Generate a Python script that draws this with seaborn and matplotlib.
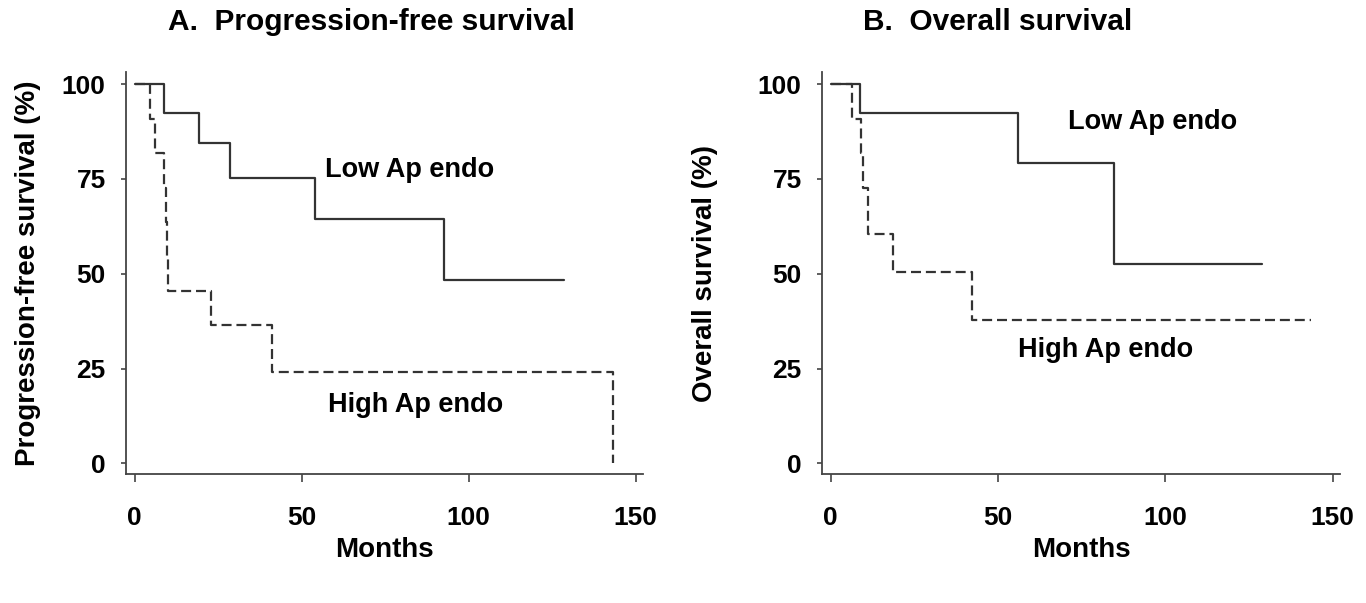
import pandas as pd
import numpy as np

import seaborn as sns
import matplotlib
matplotlib.use('Agg')
import matplotlib.pyplot as plt

# Progression-free survival (months, % surviving)
pfs_low_t = [0, 8.7, 19.4, 28.6, 54.0, 92.6, 128.5]
pfs_low_s = [100, 92.3, 84.6, 75.2, 64.5, 48.4, 48.4]
pfs_high_t = [0, 4.7, 6.2, 8.7, 9.3, 9.6, 9.9, 22.8, 41.0, 143.3]
pfs_high_s = [100, 90.9, 81.8, 72.7, 63.6, 54.5, 45.5, 36.4, 24.2, 0]

# Overall survival
os_low_t = [0, 8.8, 55.9, 84.6, 129.0]
os_low_s = [100, 92.3, 79.1, 52.7, 52.7]
os_high_t = [0, 6.3, 9.0, 9.6, 11.0, 18.7, 42.2, 143.5]
os_high_s = [100, 90.9, 81.8, 72.7, 60.6, 50.5, 37.9, 37.9]

groups = ['Low Ap endo', 'High Ap endo']
x_ticks = [0, 50, 100, 150]
y_ticks = [0, 25, 50, 75, 100]

sns.set_theme(style='ticks')
plt.rcParams['font.family'] = ['Liberation Sans', 'DejaVu Sans']
plt.rcParams['font.weight'] = 'bold'
plt.rcParams['text.color'] = 'black'
plt.rcParams['axes.labelcolor'] = 'black'
plt.rcParams['xtick.color'] = '#444444'
plt.rcParams['ytick.color'] = '#444444'
plt.rcParams['xtick.labelcolor'] = 'black'
plt.rcParams['ytick.labelcolor'] = 'black'

W, H = 1366, 603
fig = plt.figure(figsize=(W / 100, H / 100), dpi=100)
fig.patch.set_facecolor('white')


def km_df(lt, ls, ht, hs):
    low = pd.DataFrame({'Months': lt, 'Surv': ls, 'grupo': groups[0]})
    high = pd.DataFrame({'Months': ht, 'Surv': hs, 'grupo': groups[1]})
    return pd.concat([low, high], ignore_index=True)


def panel(left, right, df, ylabel, ylab_x, low_xy, high_xy):
    ax = fig.add_axes([left / W, 1 - 474 / H, (right - left) / W, (474 - 72) / H])
    sns.lineplot(data=df, x='Months', y='Surv', style='grupo',
                 dashes={groups[0]: '', groups[1]: (4.5, 2.2)},
                 color='#333333', linewidth=1.6, drawstyle='steps-post',
                 estimator=None, sort=False, legend=False, ax=ax)
    ax.set_xlim(-2.6, 152.2)
    ax.set_ylim(-2.8, 103.2)
    ax.set_xticks(x_ticks)
    ax.set_yticks(y_ticks)
    ax.tick_params(axis='x', labelsize=19, length=6, width=1.2, pad=17)
    ax.tick_params(axis='y', labelsize=19, length=3.6, width=1.2, pad=11)
    for lab in ax.get_xticklabels() + ax.get_yticklabels():
        lab.set_fontweight('bold')
    ax.spines['top'].set_visible(False)
    ax.spines['right'].set_visible(False)
    for s in ['left', 'bottom']:
        ax.spines[s].set_color('#444444')
        ax.spines[s].set_linewidth(1.3)
    ax.set_xlabel('Months', fontsize=20, fontweight='bold', labelpad=5)
    ax.set_ylabel(ylabel, fontsize=20, fontweight='bold')
    ax.yaxis.set_label_coords((ylab_x - left) / (right - left), 0.5)
    ax.text(low_xy[0], low_xy[1], groups[0], fontsize=19.5, fontweight='bold',
            ha='center', va='center')
    ax.text(high_xy[0], high_xy[1], groups[1], fontsize=19.5, fontweight='bold',
            ha='center', va='center')
    return ax


axA = panel(126, 643, km_df(pfs_low_t, pfs_low_s, pfs_high_t, pfs_high_s),
            'Progression-free survival (%)', 41, (82.3, 77.4), (84.1, 15.4))
axB = panel(822, 1340, km_df(os_low_t, os_low_s, os_high_t, os_high_s),
            'Overall survival (%)', 718, (96.2, 90.0), (82.1, 29.9))

fig.text(371 / W, 1 - 22 / H, 'A.  Progression-free survival', fontsize=21.5,
         fontweight='bold', ha='center', va='center')
fig.text(998 / W, 1 - 22 / H, 'B.  Overall survival', fontsize=21.5,
         fontweight='bold', ha='center', va='center')

fig.savefig('out.png', dpi=100)
